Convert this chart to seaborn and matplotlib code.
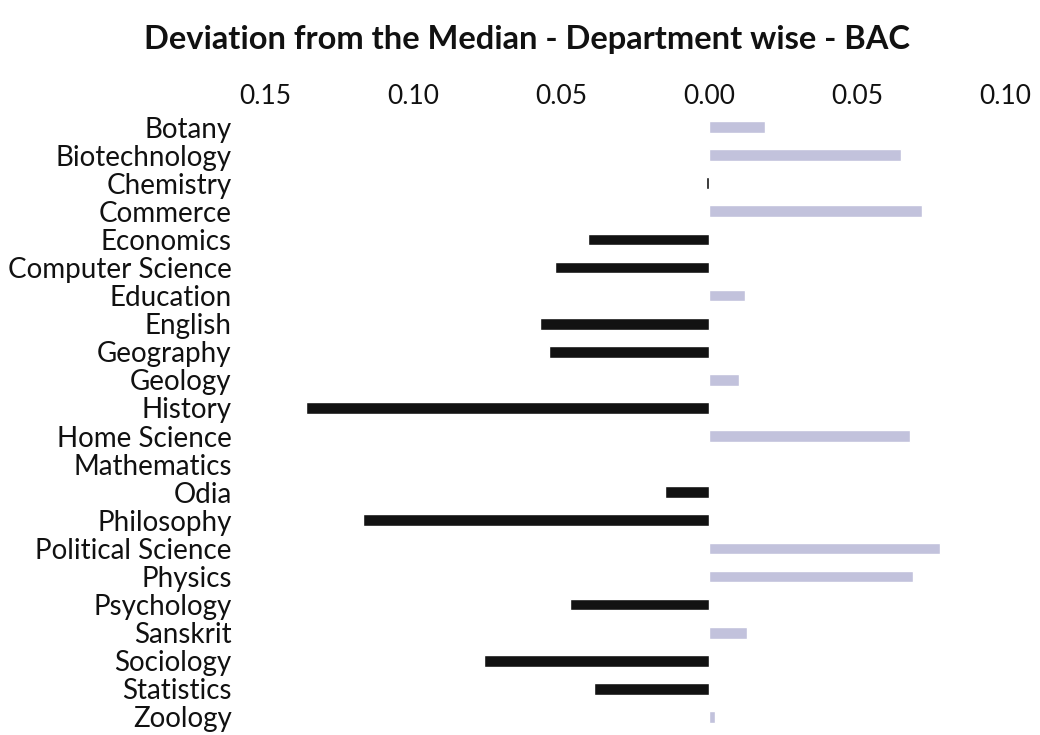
import matplotlib
matplotlib.use("Agg")
import matplotlib.pyplot as plt
import seaborn as sns
import pandas as pd
from matplotlib.ticker import FuncFormatter, FixedLocator

departments = ["Botany", "Biotechnology", "Chemistry", "Commerce", "Economics",
               "Computer Science", "Education", "English", "Geography", "Geology",
               "History", "Home Science", "Mathematics", "Odia", "Philosophy",
               "Political Science", "Physics", "Psychology", "Sanskrit", "Sociology",
               "Statistics", "Zoology"]
deviation = [0.019, 0.065, -0.001, 0.072, -0.041,
             -0.052, 0.012, -0.057, -0.054, 0.010,
             -0.136, 0.068, 0.0, -0.015, -0.117,
             0.078, 0.069, -0.047, 0.013, -0.076,
             -0.039, 0.002]
tick_values = [-0.15, -0.10, -0.05, 0.0, 0.05, 0.10]

df = pd.DataFrame({"Department": departments, "Deviation": deviation})
df["Sign"] = ["neg" if v < 0 else "pos" for v in df["Deviation"]]

sns.set_theme(style="white")
plt.rcParams["font.family"] = ["Lato", "DejaVu Sans"]

fig = plt.figure(figsize=(10.4, 7.35), dpi=100)
W, H = 1040, 735
ax_left, ax_right, ax_top, ax_bot = 240, 1030, 113, 731
ax = fig.add_axes([ax_left / W, 1 - ax_bot / H, (ax_right - ax_left) / W, (ax_bot - ax_top) / H])

sns.barplot(data=df, x="Deviation", y="Department", hue="Sign",
            palette={"neg": "#121212", "pos": "#c2c2dc"}, dodge=False,
            legend=False, width=0.42, orient="h", ax=ax, saturation=1)

zero_px, scale = 709, 2960.0
ax.set_xlim((ax_left - zero_px) / scale, (ax_right - zero_px) / scale)
ax.set_ylim(len(departments) - 0.5, -0.5)

ax.xaxis.tick_top()
ax.xaxis.set_major_locator(FixedLocator(tick_values))
ax.xaxis.set_major_formatter(FuncFormatter(lambda v, p: f"{abs(v):.2f}"))
ax.tick_params(axis="x", length=0, labelsize=19, pad=3, colors="#111111")
ax.tick_params(axis="y", length=0, labelsize=20, pad=6, colors="#111111")
ax.set_xlabel("")
ax.set_ylabel("")
for s in ax.spines.values():
    s.set_visible(False)

fig.text(0.507, 1 - 40 / H, "Deviation from the Median - Department wise - BAC",
         ha="center", va="center", fontsize=23.5, fontweight="bold", color="#111111")

fig.savefig("out.png", dpi=100, facecolor="white")
